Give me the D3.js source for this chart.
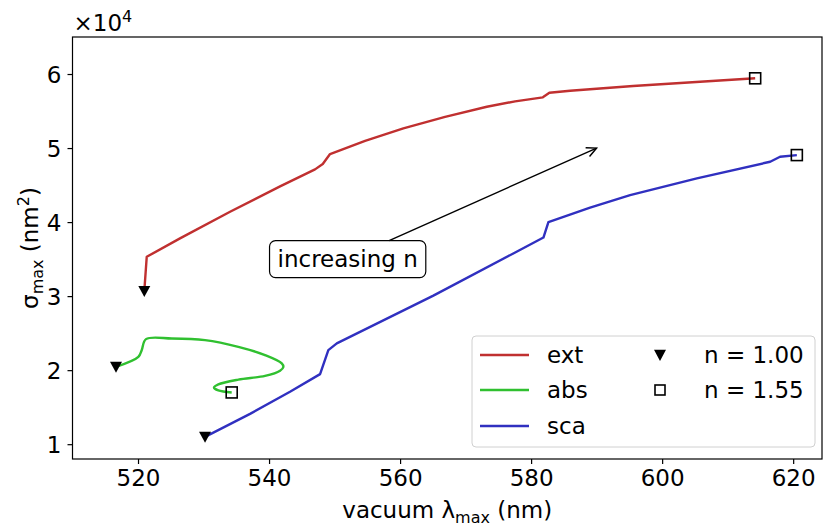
<!DOCTYPE html>
<html>
<head>
<meta charset="utf-8">
<script src="https://cdn.jsdelivr.net/npm/d3@7"></script>
<style>
  body { margin: 0; background: #fff; }
  svg { display: block; }
  text { font-family: "DejaVu Sans", sans-serif; fill: #000; }
</style>
</head>
<body>
<svg id="chart" width="824" height="527"></svg>
<script>
// ---------- data (wavelength in nm, cross-section in nm^2) ----------
const extWavelength = [520.96, 521.33, 526.41, 534.05, 541.68, 547.02, 548.2, 549.31, 554.66, 560.5, 566.87, 573.24, 577.56, 581.79, 582.79, 585.95, 595.57, 605.8, 614.2];
const extSigma      = [30680, 35310, 37800, 41390, 44820, 47120, 47840, 49190, 50970, 52660, 54220, 55580, 56310, 56850, 57470, 57740, 58380, 58960, 59420];

const absWavelength = [516.64, 520.05, 520.56, 521.22, 525.15, 530.23, 535.31, 539.39, 541.94, 542.18, 541.68, 539.39, 535.31, 532.26, 531.6, 532.26, 534.3];
const absSigma      = [20450, 21800, 22700, 24190, 24280, 24050, 23150, 22030, 20910, 20410, 19930, 19230, 18720, 18070, 17640, 17260, 16990];

const scaWavelength = [530.23, 537.1, 543.2, 547.79, 549.05, 550.34, 565.08, 581.88, 582.64, 589.0, 595.11, 605.3, 616.49, 618.0, 620.56];
const scaSigma      = [10990, 14100, 17080, 19460, 22700, 23610, 30070, 37910, 40000, 41950, 43650, 45910, 48150, 48820, 49050];

const seriesNames  = ["ext", "abs", "sca"];
const seriesColors = ["#c03030", "#30c030", "#3030c0"];
const markerLabels = ["n = 1.00", "n = 1.55"];
const xTicks = [520, 540, 560, 580, 600, 620];
const yTicks = [10000, 20000, 30000, 40000, 50000, 60000];
const annotationText = "increasing n";
const annotationTextAt = [552, 35000];
const annotationArrowTo = [590, 50000];

// ---------- layout ----------
const svg = d3.select("#chart");
const L = 72.5, R = 822, T = 37, B = 459;
const x = d3.scaleLinear().domain([510, 624.4]).range([L, R]);
const y = d3.scaleLinear().domain([8000, 65000]).range([B, T]);
const FS = 23;
const SUB = 16;

const series = [
  { name: seriesNames[0], color: seriesColors[0], xs: extWavelength, ys: extSigma, curve: d3.curveLinear },
  { name: seriesNames[1], color: seriesColors[1], xs: absWavelength, ys: absSigma, curve: d3.curveCatmullRom.alpha(0.5) },
  { name: seriesNames[2], color: seriesColors[2], xs: scaWavelength, ys: scaSigma, curve: d3.curveLinear }
];

const plot = svg.append("g");
plot.append("defs").append("clipPath").attr("id", "clip")
  .append("rect").attr("x", L).attr("y", T).attr("width", R - L).attr("height", B - T);

const lineGen = d3.line().x(d => x(d[0])).y(d => y(d[1]));

series.forEach(s => {
  const pts = s.xs.map((v, i) => [v, s.ys[i]]);
  plot.append("path")
    .attr("d", lineGen.curve(s.curve)(pts))
    .attr("fill", "none")
    .attr("stroke", s.color)
    .attr("stroke-width", 2.4)
    .attr("stroke-linejoin", "round")
    .attr("clip-path", "url(#clip)");
});

// markers
function triangle(cx, cy, s) {
  return `M${cx - s / 2},${cy - s * 0.43}L${cx + s / 2},${cy - s * 0.43}L${cx},${cy + s * 0.5}Z`;
}
series.forEach(s => {
  const n = s.xs.length;
  plot.append("path")
    .attr("d", triangle(x(s.xs[0]), y(s.ys[0]), 12))
    .attr("fill", "#000");
  plot.append("rect")
    .attr("x", x(s.xs[n - 1]) - 5.5).attr("y", y(s.ys[n - 1]) - 5.5)
    .attr("width", 11).attr("height", 11)
    .attr("fill", "none").attr("stroke", "#000").attr("stroke-width", 1.6);
});

// ---------- axes ----------
const xAxis = d3.axisBottom(x).tickValues(xTicks).tickSize(5).tickPadding(6).tickFormat(d3.format("d"));
const yAxis = d3.axisLeft(y).tickValues(yTicks).tickSize(5).tickPadding(6).tickFormat(d => d / 10000);

const gx = svg.append("g").attr("transform", `translate(0,${B})`).call(xAxis);
const gy = svg.append("g").attr("transform", `translate(${L},0)`).call(yAxis);
[gx, gy].forEach(g => {
  g.select(".domain").remove();
  g.selectAll("text").attr("font-size", FS).attr("font-family", "DejaVu Sans").attr("fill", "#000");
  g.selectAll("line").attr("stroke", "#000").attr("stroke-width", 1.2);
});
gy.selectAll("text").attr("dy", "0.36em");

svg.append("rect").attr("x", L).attr("y", T).attr("width", R - L).attr("height", B - T)
  .attr("fill", "none").attr("stroke", "#000").attr("stroke-width", 1.2);

// offset text
const off = svg.append("text").attr("x", L + 1).attr("y", 31).attr("font-size", FS);
off.append("tspan").text("×10");
off.append("tspan").attr("dy", -9).attr("font-size", SUB).text("4");

// axis labels
const xl = svg.append("text").attr("x", (L + R) / 2).attr("y", 518).attr("text-anchor", "middle").attr("font-size", FS);
xl.append("tspan").text("vacuum λ");
xl.append("tspan").attr("dy", 5).attr("font-size", SUB).text("max");
xl.append("tspan").attr("dy", -5).text(" (nm)");

const yl = svg.append("text").attr("transform", `translate(38,${(T + B) / 2}) rotate(-90)`).attr("text-anchor", "middle").attr("font-size", FS);
yl.append("tspan").text("σ");
yl.append("tspan").attr("dy", 5).attr("font-size", SUB).text("max");
yl.append("tspan").attr("dy", -5).text(" (nm");
yl.append("tspan").attr("dy", -9).attr("font-size", SUB).text("2");
yl.append("tspan").attr("dy", 9).text(")");

// ---------- annotation ----------
const ax = x(annotationTextAt[0]), ay = y(annotationTextAt[1]);
const tx = x(annotationArrowTo[0]), ty = y(annotationArrowTo[1]);
const annG = svg.append("g");
const annText = annG.append("text").attr("x", ax).attr("y", ay).attr("dy", "0.36em")
  .attr("text-anchor", "middle").attr("font-size", FS).text(annotationText);
const tw = annText.node().getComputedTextLength();
const bw = tw + 16, bh = 37;
const bx = ax - bw / 2, by = ay - bh / 2;
const dxA = tx - ax, dyA = ty - ay;
const tTop = (by - ay) / dyA;
const sx = ax + dxA * tTop, sy = by;
annG.insert("rect", "text").attr("x", bx).attr("y", by).attr("width", bw).attr("height", bh)
  .attr("rx", 6).attr("fill", "#fff").attr("stroke", "#000").attr("stroke-width", 1.2);
annG.append("line").attr("x1", sx).attr("y1", sy).attr("x2", tx).attr("y2", ty)
  .attr("stroke", "#000").attr("stroke-width", 1.4);
const ang = Math.atan2(dyA, dxA);
const hl = 11, hw = 0.45;
annG.append("path")
  .attr("d", `M${tx - hl * Math.cos(ang - hw)},${ty - hl * Math.sin(ang - hw)}L${tx},${ty}L${tx - hl * Math.cos(ang + hw)},${ty - hl * Math.sin(ang + hw)}`)
  .attr("fill", "none").attr("stroke", "#000").attr("stroke-width", 1.4).attr("stroke-linejoin", "miter");

// ---------- legend ----------
const lg = svg.append("g");
lg.append("rect").attr("x", 472).attr("y", 336).attr("width", 343).attr("height", 111)
  .attr("rx", 4).attr("fill", "#fff").attr("fill-opacity", 0.8)
  .attr("stroke", "#d0d0d0").attr("stroke-width", 1);
const rowY = [355, 390, 426];
series.forEach((s, i) => {
  lg.append("line").attr("x1", 480).attr("x2", 529).attr("y1", rowY[i]).attr("y2", rowY[i])
    .attr("stroke", s.color).attr("stroke-width", 2.4);
  lg.append("text").attr("x", 547).attr("y", rowY[i]).attr("dy", "0.36em").attr("font-size", FS).text(s.name);
});
lg.append("path").attr("d", triangle(660, rowY[0], 12)).attr("fill", "#000");
lg.append("rect").attr("x", 655).attr("y", rowY[1] - 5).attr("width", 10).attr("height", 10)
  .attr("fill", "none").attr("stroke", "#000").attr("stroke-width", 1.6);
markerLabels.forEach((m, i) => {
  lg.append("text").attr("x", 704).attr("y", rowY[i]).attr("dy", "0.36em").attr("font-size", FS).text(m);
});
</script>
</body>
</html>
